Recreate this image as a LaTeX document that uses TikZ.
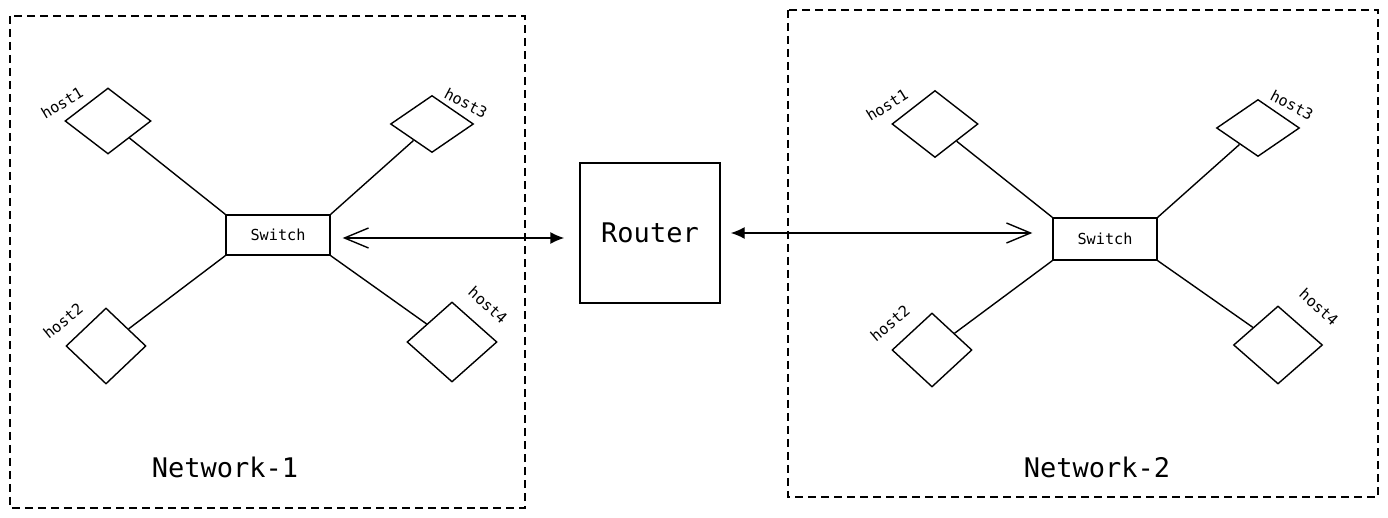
\documentclass[tikz,border=0pt]{standalone}
\usepackage{fontspec}
\setmonofont{DejaVu Sans Mono}
\usetikzlibrary{arrows.meta,shapes.geometric}
\tikzset{
  host/.style 2 args={diamond,draw,inner sep=0pt,minimum width=#1,minimum height=#2},
  hostlbl/.style={inner sep=0pt,font=\ttfamily\fontsize{7.6}{9}\selectfont},
  switchbox/.style={draw,minimum width=52pt,minimum height=20pt,inner sep=0pt,
                    font=\ttfamily\fontsize{7.6}{9}\selectfont},
  routerbox/.style={draw,minimum width=70pt,minimum height=70pt,inner sep=0pt,
                    font=\ttfamily\fontsize{13.5}{16}\selectfont},
  netbox/.style={draw,dash pattern=on 4pt off 2.5pt,line width=0.6pt},
  netlbl/.style={inner sep=0pt,font=\ttfamily\fontsize{13.5}{16}\selectfont},
  link/.style={-,line width=0.7pt},
  uplink/.style={line width=0.7pt,
                 {Straight Barb[length=12pt,width=10pt]}-{Latex[length=7pt,width=6pt]}},
  downlink/.style={line width=0.7pt,
                 {Latex[length=7pt,width=6pt]}-{Straight Barb[length=12pt,width=10pt]}},
}
\begin{document}
\begin{tikzpicture}[x=0.5pt,y=-0.5pt,line width=0.7pt]
  \useasboundingbox (0,0) rectangle (1388,518);
  % the two networks
  \draw[netbox] (10,16) rectangle (525,508);
  \draw[netbox] (788,10) rectangle (1378,497);
  \node[netlbl] (net1) at (225,467) {Network-1};
  \node[netlbl] (net2) at (1097,467) {Network-2};

  % network 1
  \node[switchbox] (sw1) at (278,235) {Switch};
  \node[host={43pt}{33pt}] (a1) at (108,121) {};
  \node[host={40pt}{38pt}] (a2) at (106,346) {};
  \node[host={41.5pt}{28.5pt}] (a3) at (432,124) {};
  \node[host={45pt}{40pt}] (a4) at (452,342) {};
  \node[hostlbl,rotate=31]  (la1) at (62,103)  {host1};
  \node[hostlbl,rotate=39]  (la2) at (63,321)  {host2};
  \node[hostlbl,rotate=-28] (la3) at (466,103) {host3};
  \node[hostlbl,rotate=-42] (la4) at (488,305) {host4};

  % router
  \node[routerbox] (rt) at (650,233) {Router};

  % network 2
  \node[switchbox,minimum height=21pt] (sw2) at (1105,239) {Switch};
  \node[host={43pt}{33.5pt}] (b1) at (935,124) {};
  \node[host={40pt}{37pt}] (b2) at (932,350) {};
  \node[host={41.5pt}{28.5pt}] (b3) at (1258,128) {};
  \node[host={44.5pt}{39pt}] (b4) at (1278,345) {};
  \node[hostlbl,rotate=32]  (lb1) at (887,105)  {host1};
  \node[hostlbl,rotate=40]  (lb2) at (890,323)  {host2};
  \node[hostlbl,rotate=-28] (lb3) at (1292,105) {host3};
  \node[hostlbl,rotate=-42] (lb4) at (1319,307) {host4};

  \draw[link] (a1)--(sw1.north west);
  \draw[link] (a2)--(sw1.south west);
  \draw[link] (a3)--(sw1.north east);
  \draw[link] (a4)--(sw1.south east);
  \draw[link] (b1)--(sw2.north west);
  \draw[link] (b2)--(sw2.south west);
  \draw[link] (b3)--(sw2.north east);
  \draw[link] (b4)--(sw2.south east);

  \draw[uplink,shorten <=6pt,shorten >=7.5pt] ([yshift=-1.5pt]sw1.east)--([yshift=-1.5pt]sw1.east -| rt.west);
  \draw[downlink,shorten <=5pt,shorten >=10pt] (rt.east)--(rt.east -| sw2.west);
\end{tikzpicture}
\end{document}
